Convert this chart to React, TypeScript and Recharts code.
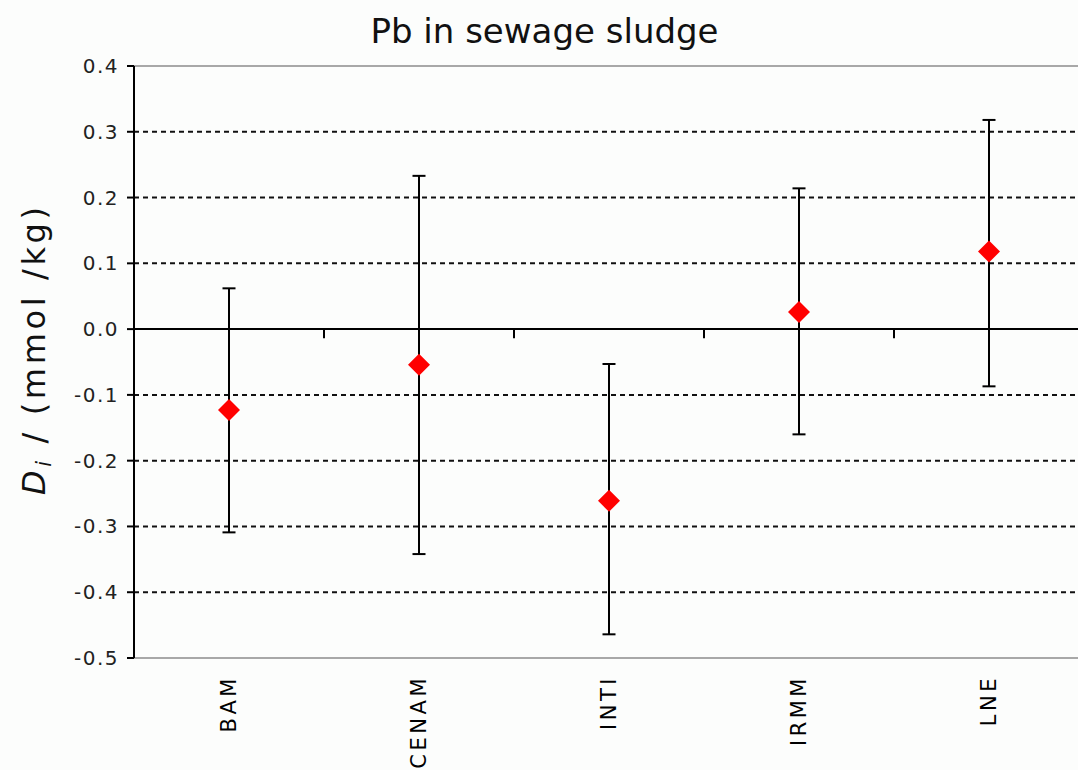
import React from "react";
import {
  ComposedChart,
  Line,
  ErrorBar,
  XAxis,
  YAxis,
  CartesianGrid,
  ReferenceLine,
} from "recharts";

const labs = ["BAM", "CENAM", "INTI", "IRMM", "LNE"];
const di = [-0.123, -0.054, -0.261, 0.026, 0.118];
const hi = [0.062, 0.233, -0.053, 0.214, 0.318];
const lo = [-0.309, -0.342, -0.464, -0.16, -0.087];
const yTicks = [-0.5, -0.4, -0.3, -0.2, -0.1, 0, 0.1, 0.2, 0.3, 0.4];

const FONT = "'DejaVu Sans', Verdana, sans-serif";

// each lab sits in the middle of its slot on a 0..n axis
const rows = labs.map((name, i) => ({
  pos: i + 0.5,
  name,
  di: di[i],
  err: [di[i] - lo[i], hi[i] - di[i]],
}));
const xTicks = rows.map((r) => r.pos);

// boundaries between labs, for the small ticks on the zero line
const edges = labs.slice(1).map((_, i) => i + 1);

function Diamond(props: any) {
  const { cx, cy, index } = props;
  if (cx == null || cy == null) return null;
  const r = 11;
  return (
    <path
      key={"dm" + index}
      d={`M${cx},${cy - r}L${cx + r},${cy}L${cx},${cy + r}L${cx - r},${cy}Z`}
      fill="#ff0000"
    />
  );
}

function CatTick(props: any) {
  const { x, y, payload } = props;
  const tx = x + 7;
  const ty = y + 15;
  const name = labs[Math.floor(payload.value)] ?? "";
  return (
    <text
      x={tx}
      y={ty}
      transform={`rotate(-90, ${tx}, ${ty})`}
      textAnchor="end"
      fontFamily={FONT}
      fontSize={21}
      letterSpacing={3.5}
      fill="#000"
    >
      {name}
    </text>
  );
}

function ValTick(props: any) {
  const { x, y, payload } = props;
  return (
    <text
      x={x + 2}
      y={y}
      dy={7}
      textAnchor="end"
      fontFamily={FONT}
      fontSize={20}
      letterSpacing={1.5}
      fill="#222"
    >
      {Number(payload.value).toFixed(1)}
    </text>
  );
}

function YLabel(props: any) {
  const vb = props.viewBox || {};
  const x = (vb.x ?? 0) + 45;
  const y = (vb.y ?? 0) + vb.height / 2 - 11;
  return (
    <text
      x={x}
      y={y}
      transform={`rotate(-90, ${x}, ${y})`}
      textAnchor="middle"
      fontFamily={FONT}
      fontSize={32}
      fill="#111"
      textLength={288}
      lengthAdjust="spacing"
    >
      <tspan fontStyle="italic">D</tspan>
      <tspan fontStyle="italic" fontSize={21} dy={6}>i</tspan>
      <tspan dy={-6}>{" / (mmol /kg)"}</tspan>
    </text>
  );
}

export default function App() {
  return (
    <div
      style={{
        position: "absolute",
        left: 0,
        top: 0,
        width: 1078,
        height: 770,
        overflow: "hidden",
        background: "#fcfdfc",
      }}
    >
      <div
        style={{
          position: "absolute",
          top: 14,
          left: 0,
          width: 1089,
          textAlign: "center",
          fontFamily: FONT,
          fontSize: 34,
          lineHeight: "34px",
          color: "#111",
        }}
      >
        Pb in sewage sludge
      </div>
      <ComposedChart
        width={1084}
        height={770}
        data={rows}
        margin={{ top: 66, right: 0, bottom: 0, left: 0 }}
      >
        <CartesianGrid
          vertical={false}
          stroke="#111"
          strokeWidth={2}
          strokeDasharray="5 4"
        />
        <XAxis
          dataKey="pos"
          type="number"
          domain={[0, labs.length]}
          allowDataOverflow
          ticks={xTicks}
          interval={0}
          height={112}
          axisLine={false}
          tickLine={false}
          tickSize={0}
          tick={<CatTick />}
        />
        <YAxis
          width={134}
          domain={[-0.5, 0.4]}
          ticks={yTicks}
          allowDataOverflow
          interval={0}
          axisLine={{ stroke: "#000", strokeWidth: 2 }}
          tickLine={{ stroke: "#000", strokeWidth: 2 }}
          tickSize={7}
          tickMargin={10}
          tick={<ValTick />}
          label={{ content: YLabel }}
        />
        <ReferenceLine y={0.4} stroke="#a8a8a8" strokeWidth={2} />
        <ReferenceLine y={-0.5} stroke="#a8a8a8" strokeWidth={2} />
        <ReferenceLine y={0} stroke="#000" strokeWidth={2} />
        {edges.map((e) => (
          <ReferenceLine
            key={"e" + e}
            segment={[
              { x: e, y: 0 },
              { x: e, y: -0.014 },
            ]}
            stroke="#000"
            strokeWidth={2}
          />
        ))}
        <Line
          dataKey="di"
          stroke="none"
          dot={Diamond}
          activeDot={false}
          legendType="none"
          isAnimationActive={false}
        >
          <ErrorBar dataKey="err" width={6.5} stroke="#000" strokeWidth={2} direction="y" />
        </Line>
      </ComposedChart>
    </div>
  );
}
